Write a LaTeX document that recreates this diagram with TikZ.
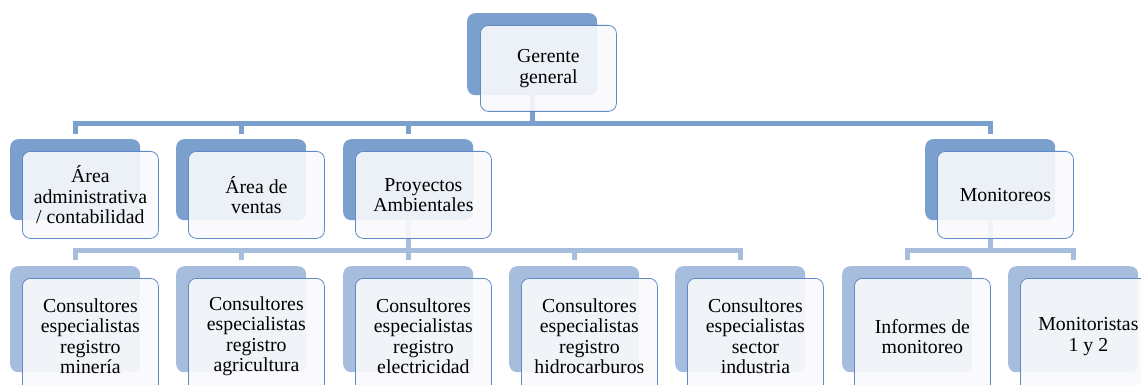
\documentclass[tikz,border=0pt]{standalone}
\usepackage{fontspec}
\setmainfont{Liberation Serif}
\definecolor{darkb}{RGB}{124,160,206}
\definecolor{lightb}{RGB}{167,189,222}
\definecolor{edgeb}{RGB}{94,138,199}
\definecolor{frontf}{RGB}{249,250,253}
\tikzset{
  backbox/.style={fill=#1, draw=none, rounded corners=8pt, anchor=north west, minimum width=130pt, inner sep=0pt},
  frontbox/.style={fill=frontf, fill opacity=0.9, text opacity=1, draw=edgeb, line width=0.8pt, rounded corners=8pt, anchor=north west, minimum width=136pt, inner sep=0pt, align=center, font=\fontsize{19.8}{20.5}\selectfont},
  conn/.style={draw=#1, line width=5pt, line join=miter}
}
\begin{document}
\begin{tikzpicture}[x=1pt,y=-1pt]
\useasboundingbox (0,0) rectangle (1141,385);
\clip (0,0) rectangle (1141,385);
\coordinate (bus1) at (0,124);
\coordinate (bus2) at (0,250.5);
% back boxes
\node[backbox=darkb, minimum height=82pt] (g-b) at (467,13) {};
\node[backbox=darkb, minimum height=81pt] (a1-b) at (10,139) {};
\node[backbox=darkb, minimum height=81pt] (a2-b) at (176,139) {};
\node[backbox=darkb, minimum height=81pt] (a3-b) at (343,139) {};
\node[backbox=darkb, minimum height=81pt] (a4-b) at (925,139) {};
\node[backbox=lightb, minimum height=106pt] (c1-b) at (10,266) {};
\node[backbox=lightb, minimum height=106pt] (c2-b) at (176,266) {};
\node[backbox=lightb, minimum height=106pt] (c3-b) at (343,266) {};
\node[backbox=lightb, minimum height=106pt] (c4-b) at (509,266) {};
\node[backbox=lightb, minimum height=106pt] (c5-b) at (675,266) {};
\node[backbox=lightb, minimum height=106pt] (m1-b) at (842,266) {};
\node[backbox=lightb, minimum height=106pt] (m2-b) at (1008,266) {};
% connectors level 1
\foreach \c in {a1,a2,a3,a4}{
  \draw[conn=darkb] (g-b.south) -- (g-b.south |- bus1) -| ([yshift=5pt]\c-b.north);
}
% connectors level 2
\foreach \c in {c1,c2,c3,c4,c5}{
  \draw[conn=lightb] (a3-b.south) -- (a3-b.south |- bus2) -| ([yshift=6pt]\c-b.north);
}
\foreach \c in {m1,m2}{
  \draw[conn=lightb] (a4-b.south) -- (a4-b.south |- bus2) -| ([yshift=6pt]\c-b.north);
}
% front boxes
\node[frontbox, minimum height=86pt] (g) at (480,25) {Gerente\\general};
\node[frontbox, minimum height=87pt] (a1) at (22,151) {Área\\administrativa\\/ contabilidad};
\node[frontbox, minimum height=87pt] (a2) at (188,151) {Área de\\ventas};
\node[frontbox, minimum height=87pt] (a3) at (355,151) {Proyectos\\Ambientales};
\node[frontbox, minimum height=87pt] (a4) at (937,151) {Monitoreos};
\node[frontbox, minimum height=116pt] (c1) at (22,278) {Consultores\\especialistas\\registro\\minería};
\node[frontbox, minimum height=116pt] (c2) at (188,278) {Consultores\\especialistas\\registro\\agricultura};
\node[frontbox, minimum height=116pt] (c3) at (355,278) {Consultores\\especialistas\\registro\\electricidad};
\node[frontbox, minimum height=116pt] (c4) at (521,278) {Consultores\\especialistas\\registro\\hidrocarburos};
\node[frontbox, minimum height=116pt] (c5) at (687,278) {Consultores\\especialistas\\sector\\industria};
\node[frontbox, minimum height=116pt] (m1) at (854,278) {Informes de\\monitoreo};
\node[frontbox, minimum height=116pt] (m2) at (1020,278) {Monitoristas\\1 y 2};
\end{tikzpicture}
\end{document}
